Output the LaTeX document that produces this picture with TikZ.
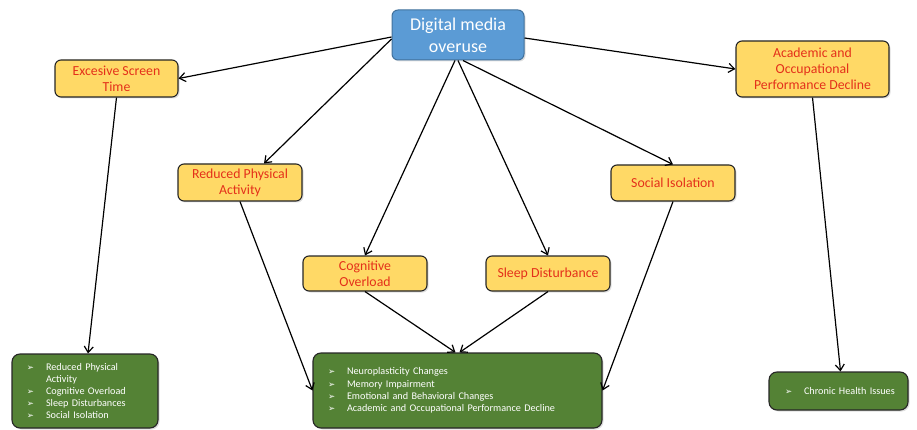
\documentclass[tikz,border=0pt]{standalone}
\usepackage{fontspec}
\setmainfont{Carlito}
\newfontfamily\dejavu{DejaVu Sans}
\usetikzlibrary{arrows.meta,shadows}
\definecolor{bluefill}{RGB}{91,155,213}
\definecolor{blueline}{RGB}{65,113,156}
\definecolor{yellowfill}{RGB}{255,217,102}
\definecolor{redtext}{RGB}{228,48,26}
\definecolor{greenfill}{RGB}{84,130,53}
\definecolor{boxline}{RGB}{38,38,38}
\newcommand\bulx{\makebox[19pt][l]{\dejavu\fontsize{8.5}{8}\selectfont ➢}}
\newcommand\nobul{\makebox[19pt][l]{}}
\tikzset{
  mainbox/.style={draw=blueline, line width=1pt, fill=bluefill, rounded corners=6pt,
    text=white, align=center, font=\fontsize{18}{22}\selectfont,
    minimum width=132pt, minimum height=50pt, inner sep=2pt,
    drop shadow={shadow xshift=1.5pt, shadow yshift=-1.5pt, opacity=0.25}},
  ybox/.style={draw=boxline, line width=1.1pt, fill=yellowfill, rounded corners=6pt,
    text=redtext, align=center, font=\fontsize{13.8}{16}\selectfont,
    minimum width=124pt, minimum height=36pt, inner sep=2pt,
    drop shadow={shadow xshift=1.5pt, shadow yshift=-1.5pt, opacity=0.25}},
  gbox/.style={draw=boxline, line width=1.1pt, fill=greenfill, rounded corners=8pt,
    text=white, align=left, font=\fontsize{10.2}{12.2}\selectfont,
    inner xsep=15pt, inner ysep=2pt,
    drop shadow={shadow xshift=1.5pt, shadow yshift=-1.5pt, opacity=0.25}},
  conn/.style={-{Straight Barb[length=6pt,width=9pt]}, line width=1.2pt, black}
}
\begin{document}
\begin{tikzpicture}[x=1pt,y=-1pt]
\useasboundingbox (0,0) rectangle (917,430);
\node[mainbox] (dmo) at (458,35) {Digital media\\overuse};
\node[ybox, minimum width=123pt, minimum height=37pt] (est) at (116.5,78.5) {Excesive Screen\\Time};
\node[ybox, minimum height=37pt] (rpa) at (240,182.5) {Reduced Physical\\Activity};
\node[ybox, minimum height=35pt] (cog) at (365,273.5) {Cognitive\\Overload};
\node[ybox, minimum height=35pt] (slp) at (548,273.5) {Sleep Disturbance};
\node[ybox] (soc) at (673,183) {Social Isolation};
\node[ybox, minimum width=153pt, minimum height=56pt] (aca) at (812.5,69) {Academic and\\Occupational\\Performance Decline};
\node[gbox, text width=116pt, minimum height=74pt] (gl) at (85,391)
  {\bulx Reduced Physical\\\nobul Activity\\\bulx Cognitive Overload\\\bulx Sleep Disturbances\\\bulx Social Isolation};
\node[gbox, text width=259pt, minimum height=75pt] (gm) at (457.5,390.5)
  {\bulx Neuroplasticity Changes\\\bulx Memory Impairment\\\bulx Emotional and Behavioral Changes\\\bulx Academic and Occupational Performance Decline};
\node[gbox, text width=125pt, inner xsep=7pt, minimum height=38pt] (gr) at (838.5,391)
  {\hspace*{9pt}\bulx Chronic Health Issues};
\draw[conn] ([yshift=-2pt]dmo.west) -- (est.east);
\draw[conn] ([yshift=-4pt]dmo.west) -- ([xshift=24pt]rpa.north);
\draw[conn] ([xshift=-3pt]dmo.south) -- (cog.north);
\draw[conn] (dmo.south) -- (slp.north);
\draw[conn] ([xshift=5pt]dmo.south) -- (soc.north);
\draw[conn] ([yshift=-3pt]dmo.east) -- (aca.west);
\draw[conn] (est.south) -- ([xshift=3pt]gl.north);
\draw[conn] (rpa.south) -- (gm.west);
\draw[conn] (cog.south) -- ([xshift=-2pt]gm.north);
\draw[conn] (slp.south) -- ([xshift=2pt]gm.north);
\draw[conn] (soc.south) -- (gm.east);
\draw[conn] (aca.south) -- ([xshift=2pt]gr.north);
\end{tikzpicture}
\end{document}
